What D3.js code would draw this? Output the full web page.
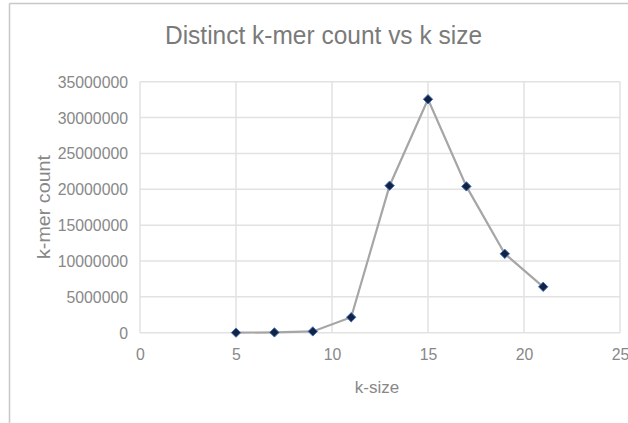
<!DOCTYPE html>
<html>
<head>
<meta charset="utf-8">
<script src="https://cdn.jsdelivr.net/npm/d3@7"></script>
<style>
  html, body { margin: 0; padding: 0; background: #fff; }
  svg { display: block; }
</style>
</head>
<body>
<svg id="chart" width="628" height="423"></svg>
<script>
const kSizes = [5, 7, 9, 11, 13, 15, 17, 19, 21];
const kmerCounts = [10000, 40000, 180000, 2150000, 20500000, 32550000, 20400000, 11000000, 6400000];
const xTicks = [0, 5, 10, 15, 20, 25];
const yTicks = [0, 5000000, 10000000, 15000000, 20000000, 25000000, 30000000, 35000000];
const titleText = "Distinct k-mer count vs k size";
const xLabel = "k-size";
const yLabel = "k-mer count";

const svg = d3.select("#chart");
const W = 628, H = 423;
const plot = { left: 140, right: 620, top: 81.7, bottom: 332.7 };

const x = d3.scaleLinear().domain([0, 25]).range([plot.left, plot.right]);
const y = d3.scaleLinear().domain([0, 35000000]).range([plot.bottom, plot.top]);

// outer frame (top and left edges visible)
svg.append("line").attr("x1", 9.5).attr("x2", 9.5).attr("y1", 3.5).attr("y2", H)
  .attr("stroke", "#c8c8c8").attr("stroke-width", 1.5);
svg.append("line").attr("x1", 9.5).attr("x2", W).attr("y1", 3.5).attr("y2", 3.5)
  .attr("stroke", "#c8c8c8").attr("stroke-width", 1.5);

// gridlines
const grid = svg.append("g");
grid.selectAll(".hg").data(yTicks).join("line")
  .attr("x1", plot.left).attr("x2", plot.right)
  .attr("y1", d => y(d)).attr("y2", d => y(d))
  .attr("stroke", "#e2e2e2").attr("stroke-width", 1.5);
grid.selectAll(".vg").data(xTicks).join("line")
  .attr("x1", d => x(d)).attr("x2", d => x(d))
  .attr("y1", plot.top).attr("y2", plot.bottom)
  .attr("stroke", "#e2e2e2").attr("stroke-width", 1.5);

// axes (tick labels only)
const fontFam = "'Liberation Sans', Arial, sans-serif";
const yAxis = d3.axisLeft(y).tickValues(yTicks).tickSize(0).tickPadding(12)
  .tickFormat(d3.format("d"));
const gy = svg.append("g").attr("transform", `translate(${plot.left},0)`).call(yAxis);
gy.select(".domain").remove();
gy.selectAll("text").attr("font-size", 15.8).attr("font-family", fontFam)
  .attr("fill", "#888888").attr("dy", "0.35em");

const xAxis = d3.axisBottom(x).tickValues(xTicks).tickSize(0).tickPadding(16)
  .tickFormat(d3.format("d"));
const gx = svg.append("g").attr("transform", `translate(0,${plot.bottom})`).call(xAxis);
gx.select(".domain").remove();
gx.selectAll("text").attr("font-size", 15.8).attr("font-family", fontFam)
  .attr("fill", "#888888");

// title
svg.append("text").attr("x", 323.5).attr("y", 43.5).attr("text-anchor", "middle")
  .attr("font-size", 25.5).attr("font-family", fontFam).attr("fill", "#7a7a7a")
  .attr("textLength", 317).attr("lengthAdjust", "spacingAndGlyphs")
  .text(titleText);

// axis titles
svg.append("text").attr("x", 377).attr("y", 392.5).attr("text-anchor", "middle")
  .attr("font-size", 17).attr("font-family", fontFam).attr("fill", "#888888")
  .text(xLabel);
svg.append("text").attr("transform", "translate(49.5,207) rotate(-90)")
  .attr("text-anchor", "middle")
  .attr("font-size", 18).attr("font-family", fontFam).attr("fill", "#888888")
  .attr("textLength", 104).attr("lengthAdjust", "spacingAndGlyphs")
  .text(yLabel);

// line
const data = kSizes.map((k, i) => ({ k, v: kmerCounts[i] }));
svg.append("path").datum(data)
  .attr("d", d3.line().x(d => x(d.k)).y(d => y(d.v)))
  .attr("fill", "none").attr("stroke", "#a6a6a6").attr("stroke-width", 2.2);

// markers
const diamond = d3.symbol().type(d3.symbolDiamond2).size(56);
svg.selectAll(".pt").data(data).join("path")
  .attr("transform", d => `translate(${x(d.k)},${y(d.v)})`)
  .attr("d", diamond)
  .attr("fill", "#14233f").attr("stroke", "#3e72c4").attr("stroke-width", 1);
</script>
</body>
</html>
